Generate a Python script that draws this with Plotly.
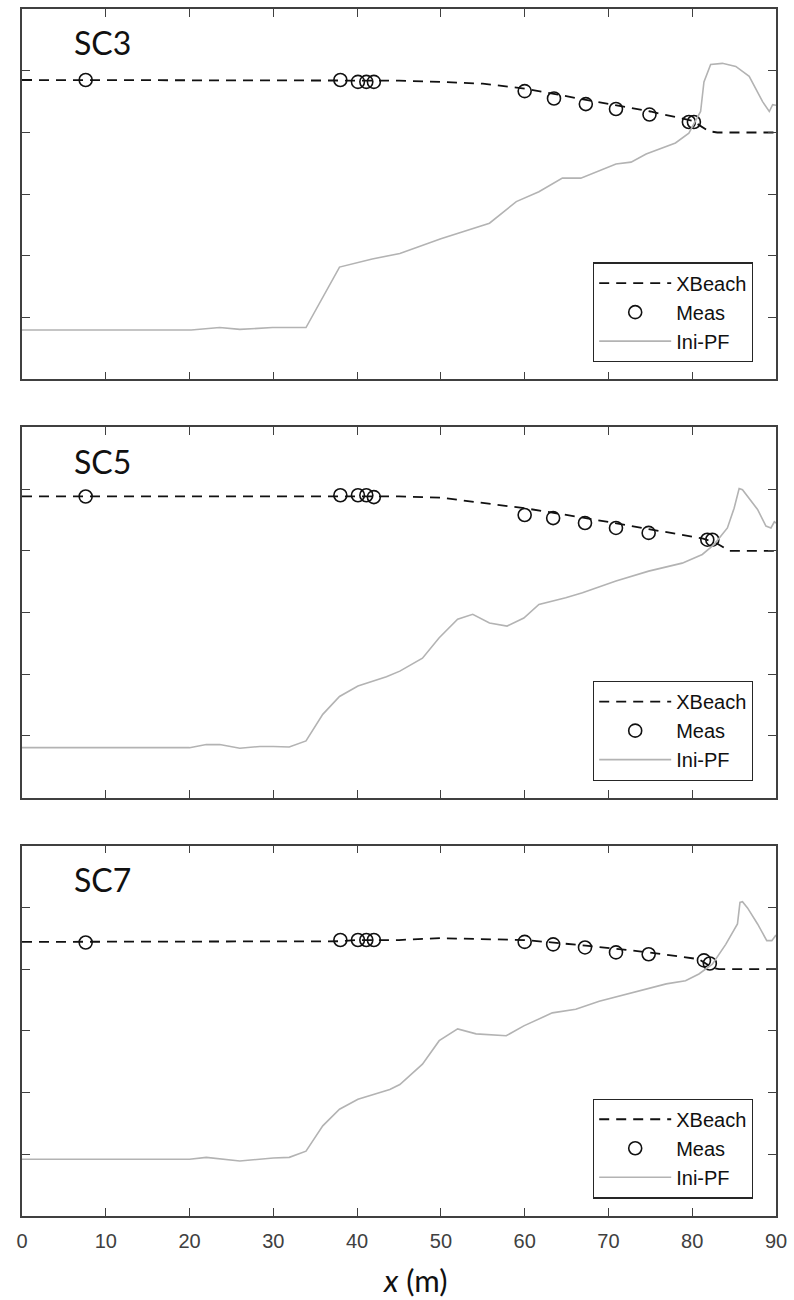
import plotly.graph_objects as go

# ---- data -------------------------------------------------------------
cases = ["SC3", "SC5", "SC7"]

# XBeach model results
xb_x_sc3 = [0, 20, 40, 45, 50, 55, 60, 65, 70, 75, 80, 81, 82, 83, 90]
xb_z_sc3 = [3.85, 3.85, 3.85, 3.84, 3.82, 3.79, 3.71, 3.59, 3.46, 3.34, 3.19, 3.11, 3.02, 3.0, 3.0]
xb_x_sc5 = [0, 20, 40, 45, 50, 55, 60, 67.3, 74.8, 81.2, 82.8, 84.4, 85, 90]
xb_z_sc5 = [3.88, 3.88, 3.88, 3.88, 3.86, 3.78, 3.69, 3.53, 3.35, 3.20, 3.13, 3.0, 3.0, 3.0]
xb_x_sc7 = [0, 20, 38, 40, 45, 50, 55, 60, 67.3, 74.8, 80.8, 82.4, 83.2, 90]
xb_z_sc7 = [3.44, 3.44, 3.45, 3.47, 3.47, 3.50, 3.49, 3.47, 3.38, 3.27, 3.16, 3.02, 3.0, 3.0]

# Measurements
ms_x_sc3 = [7.6, 38.0, 40.1, 41.1, 42.0, 60.0, 63.5, 67.3, 70.9, 74.9, 79.6, 80.2]
ms_z_sc3 = [3.85, 3.85, 3.82, 3.82, 3.82, 3.67, 3.55, 3.46, 3.38, 3.29, 3.17, 3.17]
ms_x_sc5 = [7.6, 38.0, 40.1, 41.1, 42.0, 60.0, 63.4, 67.2, 70.9, 74.8, 81.8, 82.4]
ms_z_sc5 = [3.88, 3.90, 3.90, 3.90, 3.87, 3.58, 3.53, 3.45, 3.37, 3.29, 3.18, 3.18]
ms_x_sc7 = [7.6, 38.0, 40.1, 41.1, 42.0, 60.0, 63.4, 67.2, 70.9, 74.8, 81.4, 82.1]
ms_z_sc7 = [3.43, 3.47, 3.47, 3.47, 3.47, 3.44, 3.40, 3.35, 3.27, 3.24, 3.14, 3.09]

# Initial bed profile
pf_x_sc3 = [0, 20.2, 23.6, 26, 29.9, 33.9, 37.9, 41.8, 45.1, 50, 55.8, 59, 61.7, 64.5, 66.7,
            70.9, 72.7, 74.5, 78.0, 79.6, 81.0, 81.4, 82.2, 83.6, 85.2, 86.8, 88.4, 89.2, 89.6, 90]
pf_z_sc3 = [-0.2, -0.2, -0.16, -0.19, -0.16, -0.16, 0.82, 0.95, 1.04, 1.28, 1.53, 1.88, 2.04, 2.26, 2.26,
            2.49, 2.52, 2.65, 2.83, 2.99, 3.34, 3.82, 4.10, 4.12, 4.07, 3.91, 3.50, 3.34, 3.45, 3.44]
pf_x_sc5 = [0, 20, 22, 23.6, 26, 28.4, 30, 31.9, 33.9, 35.9, 37.9, 40.1, 43.5, 45.1, 47.8, 49.8,
            52.0, 53.8, 55.8, 57.9, 59.9, 61.7, 64.9, 66.9, 70.9, 74.8, 78.8, 81.2, 82.6, 84.2,
            85.0, 85.6, 86.0, 86.6, 87.8, 88.8, 89.4, 89.8, 90]
pf_z_sc5 = [-0.19, -0.19, -0.14, -0.14, -0.2, -0.17, -0.17, -0.18, -0.08, 0.35, 0.64, 0.81, 0.96, 1.05, 1.26, 1.59,
            1.89, 1.97, 1.83, 1.78, 1.91, 2.13, 2.24, 2.32, 2.51, 2.67, 2.80, 2.94, 3.10, 3.37,
            3.69, 4.01, 3.99, 3.88, 3.67, 3.40, 3.37, 3.47, 3.45]
pf_x_sc7 = [0, 20, 22, 26, 30, 31.9, 33.9, 35.9, 37.9, 40.1, 43.9, 45.1, 47.8, 49.8, 52.0, 54.2,
            57.8, 59.9, 63.3, 66.1, 68.9, 72.9, 76.9, 79.2, 80.8, 82.4, 84.0, 85.4, 85.7, 86.0,
            86.6, 87.8, 88.9, 89.5, 89.9, 90]
pf_z_sc7 = [-0.08, -0.08, -0.05, -0.11, -0.06, -0.05, 0.05, 0.46, 0.73, 0.89, 1.05, 1.13, 1.46, 1.84, 2.03, 1.95,
            1.92, 2.08, 2.29, 2.35, 2.48, 2.62, 2.76, 2.81, 2.92, 3.08, 3.40, 3.73, 4.08, 4.09,
            3.99, 3.73, 3.46, 3.46, 3.55, 3.55]

x_ticks = [0, 10, 20, 30, 40, 50, 60, 70, 80, 90]
y_ticks = [0, 1, 2, 3, 4]

xbeach = [(xb_x_sc3, xb_z_sc3), (xb_x_sc5, xb_z_sc5), (xb_x_sc7, xb_z_sc7)]
meas = [(ms_x_sc3, ms_z_sc3), (ms_x_sc5, ms_z_sc5), (ms_x_sc7, ms_z_sc7)]
profile = [(pf_x_sc3, pf_z_sc3), (pf_x_sc5, pf_z_sc5), (pf_x_sc7, pf_z_sc7)]

# ---- layout geometry (paper fractions) --------------------------------
domains = [[0.6931, 1.0], [0.3466, 0.6534], [0.0, 0.3069]]
legend_tops = [0.790, 0.4433, 0.0973]

AX = "#404040"
PF_GREY = "#b3b3b3"

fig = go.Figure()

for i, name in enumerate(cases):
    n = "" if i == 0 else str(i + 1)
    xa, ya = "x" + n, "y" + n
    lg = "legend" + n
    fig.add_trace(go.Scatter(
        x=xbeach[i][0], y=xbeach[i][1], mode="lines", name="XBeach",
        line=dict(color="#111111", width=1.8, dash="10px,7px"),
        xaxis=xa, yaxis=ya, legend=lg))
    fig.add_trace(go.Scatter(
        x=meas[i][0], y=meas[i][1], mode="markers", name="Meas",
        marker=dict(symbol="circle-open", size=13, color="#111111", line=dict(width=1.6)),
        xaxis=xa, yaxis=ya, legend=lg))
    fig.add_trace(go.Scatter(
        x=profile[i][0], y=profile[i][1], mode="lines", name="Ini-PF",
        line=dict(color=PF_GREY, width=1.6),
        xaxis=xa, yaxis=ya, legend=lg))

    axis_common = dict(
        showline=True, linecolor=AX, linewidth=1.6, mirror="ticks",
        ticks="inside", ticklen=8, tickwidth=1.3, tickcolor=AX,
        showgrid=False, zeroline=False)
    fig.update_layout({
        "xaxis" + n: dict(
            axis_common, domain=[0, 1], range=[0, 90], tickvals=x_ticks,
            anchor=ya, showticklabels=(i == 2),
            tickfont=dict(family="Arial", size=20, color=AX), ticklabelstandoff=6),
        "yaxis" + n: dict(
            axis_common, domain=domains[i], range=[-1, 5], tickvals=y_ticks,
            anchor=xa, showticklabels=False),
        lg: dict(
            x=0.9695, xanchor="right", y=legend_tops[i], yanchor="top",
            bgcolor="white", bordercolor="#262626", borderwidth=1.2,
            font=dict(family="Arial", size=20, color="#111111"),
            itemwidth=72),
    })
    fig.add_annotation(
        text=name, x=6.0, y=4.45, xref=xa, yref=ya, xanchor="left", yanchor="middle",
        showarrow=False, font=dict(family="Lato", size=32, color="#111111"))

fig.add_annotation(
    text="<i>x</i> (m)", x=0.522, y=-0.053, xref="paper", yref="paper",
    xanchor="center", yanchor="middle", showarrow=False,
    font=dict(family="Lato", size=31, color="#111111"))

fig.update_layout(
    width=794, height=1300,
    margin=dict(l=22, r=17, t=7, b=84),
    paper_bgcolor="white", plot_bgcolor="white",
    showlegend=True)

fig.write_html("out.html")
